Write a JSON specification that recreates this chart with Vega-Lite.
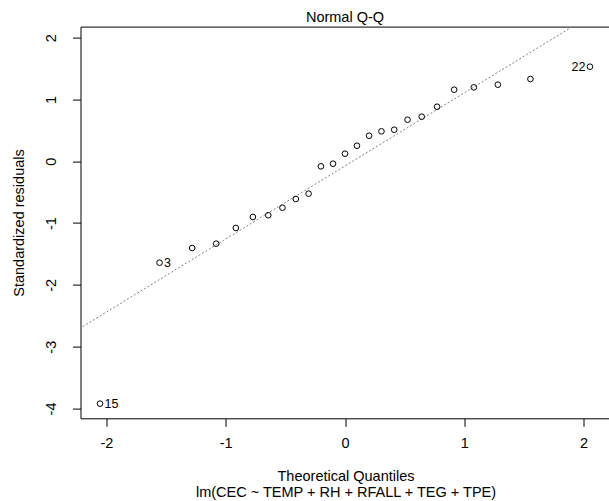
{
  "$schema": "https://vega.github.io/schema/vega-lite/v6.json",
  "width": 529,
  "height": 391.7,
  "autosize": {"type": "none"},
  "padding": {"left": 80.5, "top": 26.6, "right": 0, "bottom": 82.7},
  "background": "white",
  "config": {
    "font": "Liberation Sans",
    "view": {"stroke": "black", "strokeWidth": 1},
    "axis": {"grid": false, "domain": false, "tickColor": "black", "tickSize": 8, "tickWidth": 1,
             "labelColor": "black", "labelFontSize": 14.5, "labelFont": "Liberation Sans",
             "titleColor": "black", "titleFontSize": 14.5, "titleFontWeight": "normal", "titleFont": "Liberation Sans"}
  },
  "title": {"text": "Normal Q-Q", "fontSize": 14.5, "fontWeight": "normal", "color": "black", "anchor": "middle", "baseline": "alphabetic", "offset": 6, "dy": 16, "font": "Liberation Sans"},
  "datasets": {
    "pts": [
      {"q": -2.054, "r": -3.922, "label": "15"},
      {"q": -1.555, "r": -1.641, "label": "3"},
      {"q": -1.2816, "r": -1.403, "label": ""},
      {"q": -1.0803, "r": -1.333, "label": ""},
      {"q": -0.9154, "r": -1.079, "label": ""},
      {"q": -0.7722, "r": -0.901, "label": ""},
      {"q": -0.6433, "r": -0.872, "label": ""},
      {"q": -0.5244, "r": -0.751, "label": ""},
      {"q": -0.4125, "r": -0.610, "label": ""},
      {"q": -0.3055, "r": -0.524, "label": ""},
      {"q": -0.2019, "r": -0.081, "label": ""},
      {"q": -0.1004, "r": -0.039, "label": ""},
      {"q": 0.0, "r": 0.123, "label": ""},
      {"q": 0.1004, "r": 0.252, "label": ""},
      {"q": 0.2019, "r": 0.414, "label": ""},
      {"q": 0.3055, "r": 0.485, "label": ""},
      {"q": 0.4125, "r": 0.511, "label": ""},
      {"q": 0.5244, "r": 0.673, "label": ""},
      {"q": 0.6433, "r": 0.722, "label": ""},
      {"q": 0.7722, "r": 0.883, "label": ""},
      {"q": 0.9154, "r": 1.159, "label": ""},
      {"q": 1.0803, "r": 1.197, "label": ""},
      {"q": 1.2816, "r": 1.240, "label": ""},
      {"q": 1.555, "r": 1.332, "label": ""},
      {"q": 2.054, "r": 1.531, "label": "22"}
    ],
    "ref": [
      {"q": -2.4, "r": -2.912},
      {"q": 2.4, "r": 2.762}
    ]
  },
  "layer": [
    {
      "data": {"name": "ref"},
      "mark": {"type": "line", "clip": true, "color": "#808080", "strokeWidth": 1, "strokeDash": [2, 2]},
      "encoding": {
        "x": {"field": "q", "type": "quantitative",
              "scale": {"domain": [-2.218, 2.218], "nice": false, "zero": false},
              "axis": {"values": [-2, -1, 0, 1, 2], "labelExpr": "'' + datum.value", "labelBaseline": "alphabetic", "labelPadding": 21,
                       "title": ["Theoretical Quantiles", "lm(CEC ~ TEMP + RH + RFALL + TEG + TPE)"],
                       "titleX": 265, "titleY": 61.7, "titleBaseline": "alphabetic", "titleLineHeight": 16, "titleAlign": "center"}},
        "y": {"field": "r", "type": "quantitative",
              "scale": {"domain": [-4.159, 2.18], "nice": false, "zero": false},
              "axis": {"values": [-4, -3, -2, -1, 0, 1, 2], "labelExpr": "'' + datum.value", "labelAngle": -90, "labelAlign": "center", "labelBaseline": "alphabetic", "labelPadding": 17,
                       "title": "Standardized residuals", "titleX": -57.2, "titleY": 195.9, "titleAngle": -90, "titleAlign": "center", "titleBaseline": "alphabetic"}}
      }
    },
    {
      "data": {"name": "pts"},
      "mark": {"type": "point", "shape": "circle", "filled": false, "stroke": "black", "strokeWidth": 1, "size": 32, "opacity": 1},
      "encoding": {
        "x": {"field": "q", "type": "quantitative"},
        "y": {"field": "r", "type": "quantitative"}
      }
    },
    {
      "data": {"name": "pts"},
      "transform": [{"filter": "datum.label == '15' || datum.label == '3'"}],
      "mark": {"type": "text", "align": "left", "baseline": "middle", "dx": 4.5, "fontSize": 12.5, "color": "black", "font": "Liberation Sans"},
      "encoding": {
        "x": {"field": "q", "type": "quantitative"},
        "y": {"field": "r", "type": "quantitative"},
        "text": {"field": "label", "type": "nominal"}
      }
    },
    {
      "data": {"name": "pts"},
      "transform": [{"filter": "datum.label == '22'"}],
      "mark": {"type": "text", "align": "right", "baseline": "middle", "dx": -4.5, "fontSize": 12.5, "color": "black", "font": "Liberation Sans"},
      "encoding": {
        "x": {"field": "q", "type": "quantitative"},
        "y": {"field": "r", "type": "quantitative"},
        "text": {"field": "label", "type": "nominal"}
      }
    }
  ]
}
